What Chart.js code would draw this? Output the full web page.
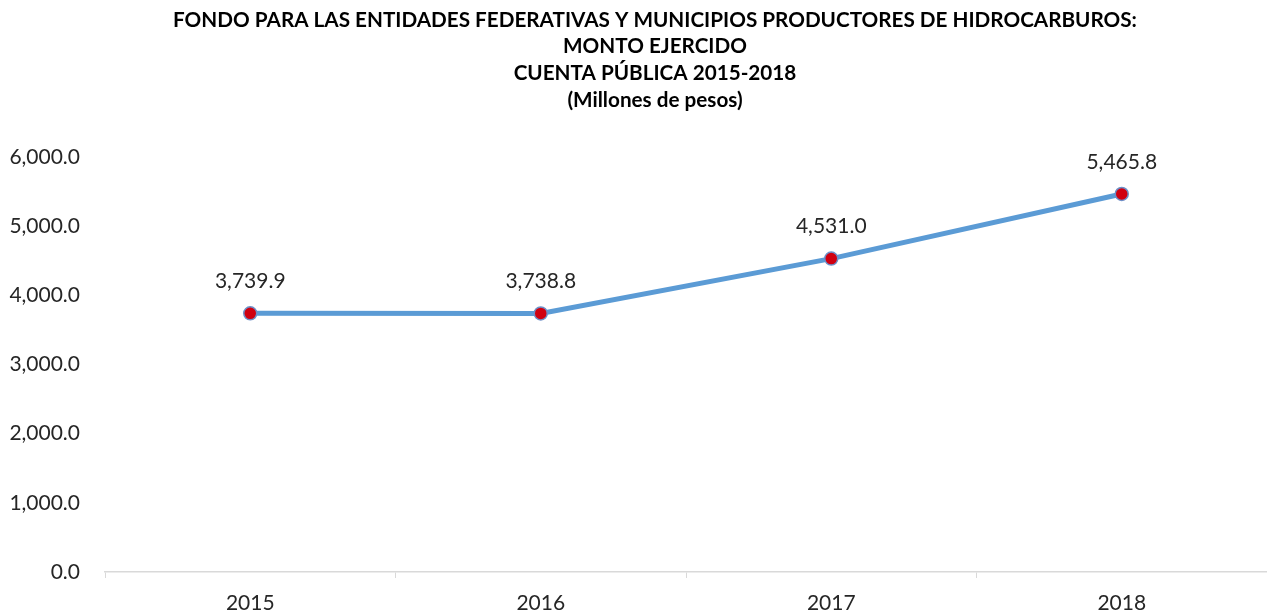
<!DOCTYPE html>
<html>
<head>
<meta charset="utf-8">
<script src="https://cdn.jsdelivr.net/npm/chart.js@4"></script>
<style>
  html, body { margin: 0; padding: 0; background: #fff; }
  #wrap { width: 1267px; height: 616px; }
</style>
</head>
<body>
<div id="wrap"><canvas id="myChart" width="1267" height="616"></canvas></div>
<script>
// datos del fondo
const years = ["2015", "2016", "2017", "2018"];
const montoEjercido = [3739.9, 3738.8, 4531.0, 5465.8];
const yTicks = [0, 1000, 2000, 3000, 4000, 5000, 6000];
const titleLines = [
  "FONDO PARA LAS ENTIDADES FEDERATIVAS Y MUNICIPIOS PRODUCTORES DE HIDROCARBUROS:",
  "MONTO EJERCIDO",
  "CUENTA PÚBLICA 2015-2018",
  "(Millones de pesos)",
];

const fmt = (v) =>
  v.toLocaleString("en-US", { minimumFractionDigits: 1, maximumFractionDigits: 1 });

// titulo, un poco a la derecha del centro como en el original
const titleBlock = {
  id: "titleBlock",
  afterDraw(chart) {
    const ctx = chart.ctx;
    ctx.save();
    ctx.font = "bold 20.7px Lato";
    ctx.fillStyle = "#000";
    ctx.textAlign = "center";
    ctx.textBaseline = "middle";
    titleLines.forEach((t, i) => {
      ctx.fillText(t, 655, 20 + i * 26.8);
    });
    ctx.restore();
  },
};

// etiquetas encima de los puntos
const valueLabels = {
  id: "valueLabels",
  afterDatasetsDraw(chart) {
    const ctx = chart.ctx;
    const meta = chart.getDatasetMeta(0);
    ctx.save();
    ctx.font = "21px Lato";
    ctx.fillStyle = "#262626";
    ctx.textAlign = "center";
    ctx.textBaseline = "middle";
    meta.data.forEach((pt, i) => {
      ctx.fillText(fmt(montoEjercido[i]), pt.x, pt.y - 32);
    });
    ctx.restore();
  },
};

const config = {
  type: "line",
  data: {
    labels: years,
    datasets: [
      {
        data: montoEjercido,
        borderColor: "#5b9bd5",
        borderWidth: 5,
        pointBackgroundColor: "#d00010",
        pointBorderColor: "#6d8fc8",
        pointBorderWidth: 1.5,
        pointRadius: 6.5,
        tension: 0,
      },
    ],
  },
  options: {
    responsive: false,
    animation: false,
    layout: { autoPadding: false, padding: { top: 157, right: -3, bottom: 0, left: 0 } },
    plugins: {
      legend: { display: false },
      tooltip: { enabled: false },
      title: { display: false },
    },
    scales: {
      x: {
        offset: true,
        afterFit: (s) => {
          s.height = 44;
          s.paddingLeft = 0;
          s.paddingRight = 0;
        },
        grid: {
          offset: true,
          drawOnChartArea: false,
          tickLength: 6,
          color: "#d9d9d9",
        },
        border: { color: "#d9d9d9", width: 1.5 },
        ticks: { color: "#262626", font: { family: "Lato", size: 21 }, padding: 13 },
      },
      y: {
        min: 0,
        max: 6000,
        afterBuildTicks: (s) => {
          s.ticks = yTicks.map((v) => ({ value: v }));
        },
        afterFit: (s) => {
          s.width = 105;
        },
        grid: { display: false },
        border: { display: false },
        ticks: {
          color: "#262626",
          font: { family: "Lato", size: 21 },
          padding: 17,
          callback: (v) => fmt(v),
        },
      },
    },
  },
  plugins: [valueLabels, titleBlock],
};

const myChart = new Chart(document.getElementById("myChart"), config);
</script>
</body>
</html>
